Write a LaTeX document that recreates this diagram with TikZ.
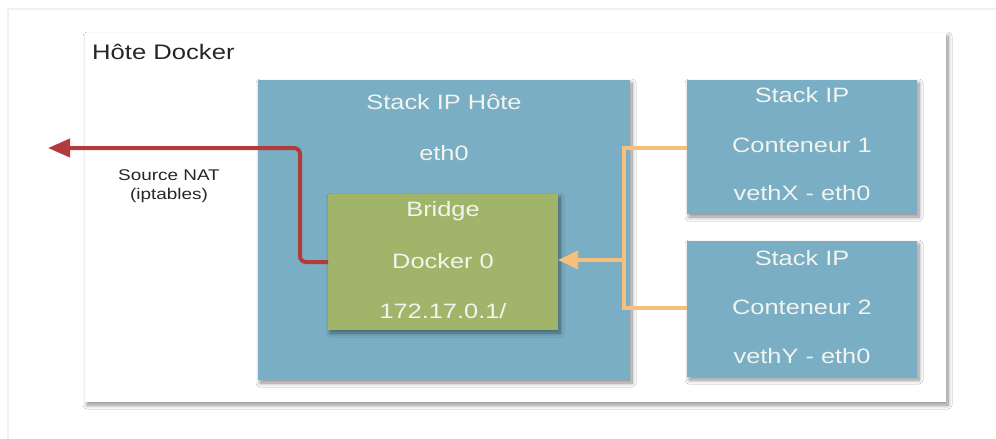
\documentclass[tikz,border=0pt]{standalone}
\usepackage{fontspec}
\setmainfont{Liberation Sans}[FakeStretch=1.22]
\usetikzlibrary{shadows.blur,arrows.meta}
\definecolor{stackblue}{HTML}{79AEC4}
\definecolor{bridgegreen}{HTML}{A1B56A}
\definecolor{natred}{HTML}{B23B3B}
\definecolor{vethorange}{HTML}{F6C07C}
\definecolor{txtwhite}{HTML}{F2F4F0}
\tikzset{
  box/.style={draw=none, inner sep=0pt, outer sep=0pt, blur shadow={shadow xshift=2pt, shadow yshift=-3pt, shadow blur radius=4pt, shadow blur steps=10, shadow opacity=45}},
  hostbox/.style={box, fill=white},
  bluebox/.style={box, fill=stackblue},
  greenbox/.style={box, fill=bridgegreen},
  lbl/.style={text=txtwhite, font=\fontsize{20.8}{23}\selectfont, inner sep=0pt},
  natline/.style={draw=natred, line width=4pt, rounded corners=6pt},
  vethline/.style={draw=vethorange, line width=4pt},
}
\begin{document}
\begin{tikzpicture}[x=1pt,y=-1pt]
\useasboundingbox (0,0) rectangle (996,439);
\fill[white] (0,0) rectangle (996,439);
\draw[black!6, line width=1.5pt] (8,439) -- (8,9) -- (996,9);
% host
\node[hostbox, minimum width=861pt, minimum height=369pt, anchor=north west] (host) at (85,33) {};
\node[anchor=west, inner sep=0pt, font=\fontsize{21}{24}\selectfont, text=black!85] (hostlbl) at (92,52) {Hôte Docker};
% stack host
\node[bluebox, minimum width=372pt, minimum height=300pt, anchor=north west] (stack) at (258,80) {};
\node[lbl] (stacklbl) at (444,102) {Stack IP Hôte};
\node[lbl] (eth) at (444,153) {eth0};
% bridge
\node[greenbox, minimum width=230pt, minimum height=136pt, anchor=north west] (bridge) at (328,194) {};
\node[lbl] (b1) at (443,211) {Bridge};
\node[lbl] (b2) at (443,261) {Docker 0};
\node[lbl] (b3) at (443,311) {172.17.0.1/};
% containers
\node[bluebox, minimum width=230pt, minimum height=134pt, anchor=north west] (c1) at (687,80) {};
\node[lbl] (c1a) at (802,95) {Stack IP};
\node[lbl] (c1b) at (802,145) {Conteneur 1};
\node[lbl] (c1c) at (802,193) {vethX - eth0};
\node[bluebox, minimum width=230pt, minimum height=136pt, anchor=north west] (c2) at (687,241) {};
\node[lbl] (c2a) at (802,258) {Stack IP};
\node[lbl] (c2b) at (802,307) {Conteneur 2};
\node[lbl] (c2c) at (802,356) {vethY - eth0};
% NAT
\coordinate (natend) at (48,148);
\draw[natline, -{Triangle[length=22pt,width=18pt]}] (bridge.west |- 0,262) -- (300,262) -- (300,148) -- (natend);
\node[align=center, font=\fontsize{15.5}{19}\selectfont, text=black!85, inner sep=0pt] (natlbl) at (169,186) {Source NAT\\(iptables)};
% veth
\coordinate (vj1) at (624,148);
\coordinate (vj2) at (624,308);
\draw[vethline] (c1.west |- vj1) -- (vj1) -- (vj2) -- (c2.west |- vj2);
\draw[vethline, -{Triangle[length=20pt,width=18pt]}] (624,260) -- (bridge.east |- 0,260);
\end{tikzpicture}
\end{document}
